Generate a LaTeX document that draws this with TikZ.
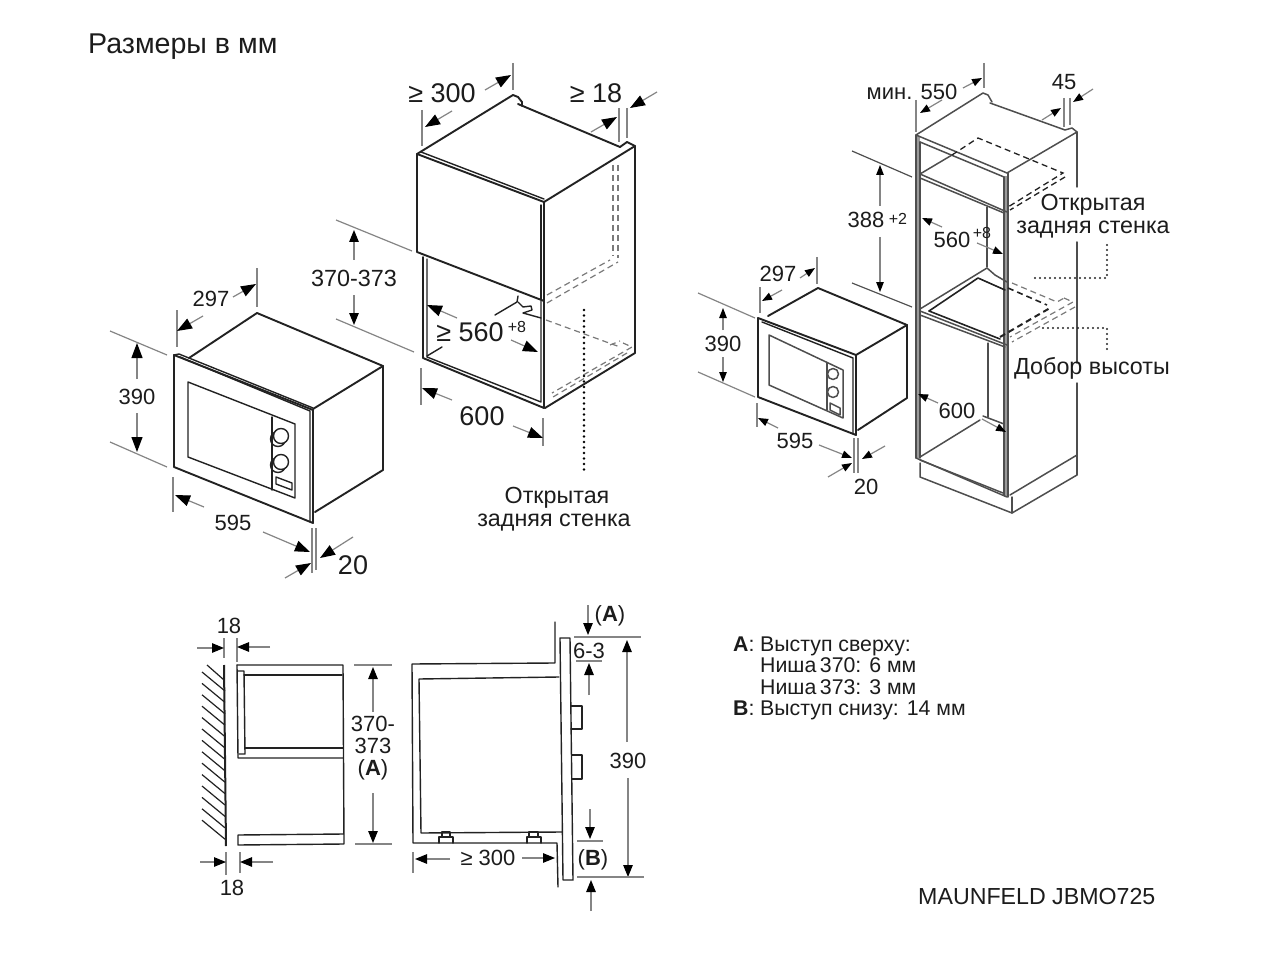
\documentclass[tikz,border=0pt]{standalone}
\usepackage{fontspec}
\setmainfont{Liberation Sans}
\usetikzlibrary{arrows.meta}
\definecolor{ink}{HTML}{222222}
\definecolor{dimgray}{HTML}{858585}
\definecolor{txt}{HTML}{1c1c1c}
\definecolor{band}{HTML}{9a9a9a}
\tikzset{
  obj/.style={draw=ink,line width=1.9pt,line join=round,line cap=round},
  thin obj/.style={draw=ink,line width=1.4pt,line join=round,line cap=round},
  gr obj/.style={draw=ink!80,line width=1.5pt,line join=round,line cap=round},
  ext/.style={draw=dimgray,line width=1.2pt},
  bigarr/.style={draw=dimgray,line width=1.2pt,-{Triangle[length=15pt,width=11pt,color=black]}},
  lowarr/.style={draw=dimgray,line width=1.2pt,-{Triangle[length=12pt,width=9.5pt,color=black]}},
  arr/.style={draw=dimgray,line width=1.2pt,-{Triangle[length=10pt,width=7.5pt,color=black]}},
  dashg/.style={draw=ink!60,line width=1.2pt,dash pattern=on 6pt off 4pt},
  dashk/.style={draw=ink,line width=1.6pt,dash pattern=on 6pt off 4pt},
  dotk/.style={draw=black,line width=2.8pt,line cap=round,dash pattern=on 0pt off 5.5pt},
  dotn/.style={draw=black!85,line width=2.4pt,line cap=round,dash pattern=on 0pt off 5pt},
  lab/.style={text=txt,inner sep=0pt,font=\fontsize{22}{24}\selectfont},
  biglab/.style={text=txt,inner sep=0pt,font=\fontsize{27}{30}\selectfont},
  uplab/.style={text=txt,inner sep=0pt,font=\fontsize{16}{18}\selectfont},
  rulab/.style={text=txt,inner sep=0pt,font=\fontsize{23.3}{26}\selectfont},
  leg/.style={text=txt,inner sep=0pt,anchor=base west,font=\fontsize{21.3}{24}\selectfont},
}
\begin{document}
\begin{tikzpicture}[x=1pt,y=-1pt]
\useasboundingbox (0,0) rectangle (1280,960);
\fill[white] (0,0) rectangle (1280,960);
\node[inner sep=0pt,anchor=west,text=txt,font=\fontsize{28.6}{32}\selectfont] (title) at (88,47) {Размеры в мм};

% ---- left microwave
\draw[obj] (174,355) -- (313,410) -- (313,523) -- (174,467) -- cycle;
\draw[thin obj] (174,355) -- (179,354) -- (313,408);
\draw[thin obj] (180,357) -- (310,411) -- (310,522);
\draw[obj] (189,358) -- (257,313) -- (383,366) -- (383,470) -- (315,512);
\draw[obj] (313,409) -- (383,366);
\draw[thin obj] (188,382) -- (295,424) -- (295,498) -- (188,457) -- cycle;
\draw[thin obj] (272,417) -- (272,490);
\draw[thin obj] (278,439) circle (7.5);
\draw[thin obj,fill=white] (281,436) circle (7.5);
\draw[thin obj] (278,465) circle (7.5);
\draw[thin obj,fill=white] (281,462) circle (7.5);
\draw[thin obj] (276,477) -- (292,483) -- (292,490) -- (276,484) -- cycle;
\draw[ext] (110,331) -- (167,355);
\draw[ext] (110,442) -- (167,467);
\draw[bigarr] (137,379) -- (137,343);
\draw[bigarr] (137,413) -- (137,452);
\node[lab] (d390a) at (137,397) {390};
\draw[ext] (177,310) -- (177,347);
\draw[ext] (257,268) -- (257,307);
\draw[bigarr] (203,316) -- (177,331);
\draw[bigarr] (233,297) -- (256,284);
\node[lab] (d297a) at (211,299) {297};
\draw[ext] (173,477) -- (173,512);
\draw[bigarr] (204,507) -- (175,495);
\draw[bigarr] (263,532) -- (310,552);
\node[lab] (d595a) at (233,523) {595};
\draw[ext] (312,528) -- (312,573);
\draw[ext] (316,528) -- (316,570);
\draw[bigarr] (285,578) -- (311,563);
\draw[bigarr] (353,537) -- (320,558);
\node[biglab] (d20a) at (353,565) {20};

% ---- middle cabinet
\draw[obj] (417,154) -- (513,95) -- (518,97) -- (522,102) -- (522,106);
\draw[obj] (518,104) -- (620,147);
\draw[obj] (620,147) -- (627,142) -- (635,146) -- (544,202);
\draw[obj] (417,154) -- (544,202) -- (544,408);
\draw[obj] (417,154) -- (417,252) -- (544,301);
\draw[thin obj] (421,152) -- (544,199);
\draw[thin obj] (541,205) -- (541,299);
\draw[obj] (635,146) -- (635,353) -- (545,408);
\draw[obj] (423,257) -- (423,358) -- (544,408);
\draw[thin obj] (427,259) -- (427,357) -- (541,402) -- (541,301);
\draw[thin obj] (427,356) -- (442,347);
\draw[thin obj] (495,315) -- (517,302) -- (518,296);
\draw[thin obj] (518,302) -- (523,307) -- (531,306) -- (532,310) -- (523,313) -- (541,318);
\draw[dashg] (613,165) -- (613,256);
\draw[dashg] (618,165) -- (618,258);
\draw[dashg] (547,303) -- (618,262);
\draw[dashg] (547,295) -- (610,260);
\draw[dashg] (546,320) -- (620,347);
\draw[dashg] (610,345) -- (620,341);
\draw[dashg] (623,343) -- (632,347) -- (552,393);
\draw[dashg] (627,353) -- (553,397);
\draw[dotk] (584,310) -- (584,470);
\draw[ext] (422,110) -- (422,146);
\draw[ext] (513,63) -- (513,90);
\draw[bigarr] (452,111) -- (425,127);
\draw[bigarr] (485,90) -- (511,75);
\node[biglab,anchor=center] (d300a) at (442,93) {≥ 300};
\draw[ext] (619,108) -- (619,142);
\draw[ext] (627,108) -- (627,138);
\draw[bigarr] (591,132) -- (617,117);
\draw[bigarr] (657,92) -- (630,108);
\node[biglab] (d18a) at (596,93) {≥ 18};
\draw[ext] (336,220) -- (412,251);
\draw[ext] (336,319) -- (414,352);
\draw[lowarr] (354,260) -- (354,230);
\draw[lowarr] (354,295) -- (354,325);
\node[lab,font=\fontsize{23.4}{26}\selectfont] (d370a) at (354,278) {370-373};
\draw[bigarr] (457,318) -- (427,305);
\draw[bigarr] (511,340) -- (538,352);
\node[biglab] (d560a) at (470,332) {≥ 560};
\node[uplab] (d560au) at (517,327) {+8};
\draw[ext] (421,368) -- (421,405);
\draw[ext] (543,418) -- (543,446);
\draw[bigarr] (452,400) -- (422,388);
\draw[bigarr] (513,426) -- (543,438);
\node[biglab] (d600a) at (482,416) {600};
\node[rulab] (r1) at (557,498) {Открытая};
\node[rulab] (r2) at (554,523) {задняя стенка};

% ---- right microwave
\draw[obj] (758,318) -- (856,355) -- (856,435) -- (758,397) -- cycle;
\draw[obj] (768,316) -- (818,288) -- (907,325) -- (907,398) -- (858,430);
\draw[obj] (856,355) -- (907,325);
\draw[thin obj] (762,322) -- (853,358) -- (853,433);
\draw[gr obj] (769,335) -- (843,370) -- (843,418) -- (769,385) -- cycle;
\draw[gr obj] (827,363) -- (827,410);
\draw[gr obj] (833,374) circle (5.5);
\draw[gr obj] (833,392) circle (5.5);
\draw[gr obj] (830,403) -- (840,408) -- (840,415) -- (830,410) -- cycle;
\draw[ext] (698,293) -- (755,318);
\draw[ext] (698,372) -- (755,397);
\draw[arr] (723,330) -- (723,308);
\draw[arr] (723,357) -- (723,382);
\node[lab] (d390b) at (723,344) {390};
\draw[ext] (760,287) -- (760,313);
\draw[ext] (817,257) -- (817,284);
\draw[arr] (782,290) -- (762,301);
\draw[arr] (800,278) -- (815,268);
\node[lab] (d297b) at (778,274) {297};
\draw[ext] (757,403) -- (757,427);
\draw[arr] (778,428) -- (758,418);
\draw[arr] (819,445) -- (852,458);
\node[lab] (d595b) at (795,441) {595};
\draw[ext] (854,438) -- (854,473);
\draw[ext] (858,438) -- (858,473);
\draw[arr] (828,477) -- (852,463);
\draw[arr] (885,446) -- (862,459);
\node[lab] (d20b) at (866,487) {20};

% ---- tall cabinet
\fill[band] (916,136) rectangle (920,458);
\fill[band] (1004,176) rectangle (1008,497);
\draw[gr obj] (916,135) -- (983,93) -- (988,95) -- (992,102);
\draw[gr obj] (990,103) -- (1065,130) -- (1072,128) -- (1077,132) -- (1007,173);
\draw[gr obj] (916,135) -- (1007,173);
\draw[gr obj] (920,142) -- (1004,177);
\draw[gr obj] (916,135) -- (916,458);
\draw[gr obj] (920,142) -- (920,458);
\draw[gr obj] (1004,177) -- (1004,495);
\draw[gr obj] (1008,173) -- (1008,497);
\draw[gr obj] (1077,132) -- (1077,187);
\draw[gr obj] (1077,242) -- (1077,363);
\draw[gr obj] (1077,383) -- (1077,475);
\draw[gr obj] (1077,455) -- (1010,495);
\draw[gr obj] (1077,475) -- (1012,513) -- (920,477) -- (920,463);
\draw[gr obj] (1012,513) -- (1012,497);
\draw[gr obj] (916,458) -- (1007,497);
\draw[gr obj] (920,460) -- (1003,493);
\draw[gr obj] (920,174) -- (1007,212);
\draw[gr obj] (920,178) -- (1004,213);
\draw[gr obj] (920,174) -- (952,155);
\draw[dashk,line width=1.3pt] (952,155) -- (978,138) -- (1063,173) -- (1008,207);
\draw[dashk,line width=1.3pt] (1065,177) -- (1010,210);
\draw[gr obj,line width=1.2pt] (987,207) -- (987,267);
\draw[gr obj,line width=1.2pt] (988,343) -- (988,417);
\draw[gr obj] (920,309) -- (987,268) -- (995,275) -- (1007,282);
\draw[obj,line width=1.6pt] (929,311) -- (978,278) -- (1005,290);
\draw[obj,line width=1.6pt] (929,311) -- (1000,339);
\draw[gr obj] (920,311) -- (1007,345);
\draw[gr obj] (920,315) -- (1005,347);
\draw[dashg] (1012,283) -- (1057,302) -- (1066,297);
\draw[dashk] (1008,288) -- (1047,305);
\draw[dashg] (1064,298) -- (1073,302) -- (1010,337);
\draw[dashg] (1075,307) -- (1012,342);
\draw[dashk,line width=2pt] (1000,337) -- (1050,308);
\draw[gr obj] (920,457) -- (980,420);
\draw[gr obj] (983,416) -- (1004,424);
\draw[dotn] (1035,278) -- (1107,278) -- (1107,242);
\draw[dotn] (1043,328) -- (1107,328) -- (1107,352);
\draw[ext] (916,100) -- (916,132);
\draw[ext] (984,63) -- (984,88);
\draw[arr] (942,100) -- (920,113);
\draw[arr] (963,88) -- (982,78);
\node[lab] (d550) at (912,92) {мин. 550};
\draw[ext] (1064,98) -- (1064,127);
\draw[ext] (1070,98) -- (1070,125);
\draw[arr] (1042,120) -- (1061,108);
\draw[arr] (1093,89) -- (1073,102);
\node[lab] (d45) at (1064,82) {45};
\draw[ext,draw=ink!80] (852,151) -- (912,177);
\draw[ext,draw=ink!80] (852,283) -- (912,307);
\draw[arr] (880,206) -- (880,165);
\draw[arr] (880,237) -- (880,292);
\node[lab] (d388) at (866,220) {388};
\node[uplab] (d388u) at (898,219) {+2};
\draw[arr] (942,227) -- (922,218);
\draw[arr] (977,243) -- (1003,254);
\node[lab] (d560b) at (952,240) {560};
\node[uplab] (d560bu) at (982,233) {+8};
\draw[arr] (938,403) -- (918,394);
\draw[arr] (982,419) -- (1006,432);
\node[lab] (d600b) at (957,411) {600};
\node[rulab] (r3) at (1093,205) {Открытая};
\node[rulab] (r4) at (1093,230) {задняя стенка};
\node[rulab] (r5) at (1092,368) {Добор высоты};

% ---- lower left section
\foreach \k in {0,...,13} {
  \draw[ink,line width=1.2pt] (202,672+11.4*\k) -- (225,691+11.4*\k);
}
\draw[ink,line width=1.2pt] (207,665) -- (224,680);
\draw[ink,line width=2pt] (224,665) -- (226,846);
\draw[thin obj] (237,665) -- (343,665) -- (344,844) -- (238,845) -- (238,835) -- (344,834);
\draw[thin obj] (237,665) -- (238,758) -- (343,758);
\draw[thin obj] (244,675) -- (342,675);
\draw[thin obj] (238,671) -- (244,671) -- (245,754) -- (239,754);
\draw[thin obj] (245,748) -- (343,748);
\draw[ext] (224,638) -- (224,658);
\draw[ext] (237,638) -- (237,662);
\draw[lowarr] (197,648) -- (224,648);
\draw[lowarr] (270,647) -- (237,647);
\node[lab] (d18b) at (229,626) {18};
\draw[ext] (226,852) -- (226,875);
\draw[ext] (240,852) -- (240,873);
\draw[lowarr] (200,862) -- (226,862);
\draw[lowarr] (273,862) -- (240,862);
\node[lab] (d18c) at (232,888) {18};
\draw[ext] (354,665) -- (392,665);
\draw[ext] (355,844) -- (392,844);
\draw[lowarr] (373,712) -- (373,667);
\draw[lowarr] (373,793) -- (373,843);
\node[lab] (d370b) at (373,724) {370-};
\node[lab] (d373) at (373,746) {373};
\node[lab] (dAa) at (373,770) {(\textbf{A})};

% ---- lower right section
\draw[thin obj] (555,622) -- (555,663) -- (412,664) -- (413,843) -- (557,843) -- (558,887);
\draw[thin obj] (559,677) -- (419,679) -- (421,833) -- (562,832);
\draw[thin obj] (560,638) -- (570,638) -- (573,880) -- (563,880) -- cycle;
\draw[thin obj] (571,706) -- (582,706) -- (582,729) -- (571,729);
\draw[thin obj] (572,755) -- (582,755) -- (582,779) -- (572,779);
\draw[thin obj] (439,843) -- (439,837) -- (453,837) -- (453,843);
\draw[thin obj] (442,837) -- (442,832) -- (450,832) -- (450,837);
\draw[thin obj] (527,843) -- (527,837) -- (541,837) -- (541,843);
\draw[thin obj] (529,837) -- (529,832) -- (538,832) -- (538,837);
\draw[ext] (413,852) -- (413,873);
\draw[lowarr] (450,859) -- (415,859);
\draw[lowarr] (522,858) -- (555,858);
\node[lab] (d300b) at (488,858) {≥ 300};
\draw[lowarr] (588,605) -- (588,635);
\node[lab] (dAb) at (610,616) {(\textbf{A})};
\draw[ext] (574,637) -- (641,637);
\node[lab] (d63) at (589,651) {6-3};
\draw[ext] (576,661) -- (602,661);
\draw[lowarr] (589,695) -- (589,663);
\draw[lowarr] (627,742) -- (627,640);
\draw[lowarr] (628,778) -- (628,877);
\node[lab] (d390c) at (628,761) {390};
\draw[ext] (577,877) -- (644,877);
\draw[ext] (577,841) -- (603,841);
\draw[lowarr] (590,809) -- (590,839);
\draw[lowarr] (591,911) -- (591,880);
\node[lab] (dB) at (593,860) {(\textbf{B})};

% ---- legend
\node[leg] (l1a) at (733,651) {\textbf{A}:};
\node[leg] (l1) at (760,651) {Выступ сверху:};
\node[leg] (l2) at (760,672) {Ниша\,370: 6 мм};
\node[leg] (l3) at (760,694) {Ниша\,373: 3 мм};
\node[leg] (l4a) at (733,715) {\textbf{B}:};
\node[leg] (l4) at (760,715) {Выступ снизу: 14 мм};
\node[inner sep=0pt,anchor=west,text=txt,font=\fontsize{23.2}{26}\selectfont] (brand) at (918,897) {MAUNFELD JBMO725};
\end{tikzpicture}
\end{document}
